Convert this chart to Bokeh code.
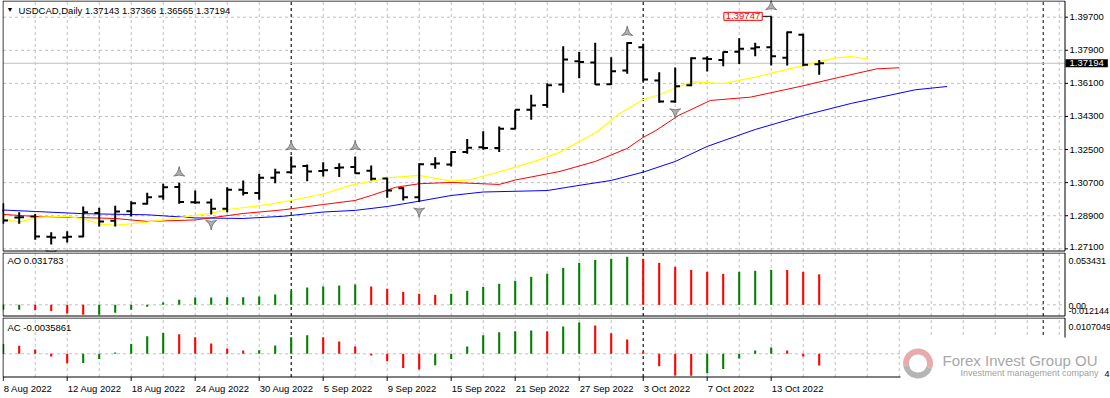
from bokeh.plotting import figure
from bokeh.layouts import column
from bokeh.models import Range1d, Label, Grid
from bokeh.core.properties import value
from bokeh.embed import file_html
from bokeh.resources import INLINE
import numpy as np

# ---------------- data ----------------
tick_idx = [0, 4, 8, 12, 16, 20, 24, 28, 32, 36, 40, 44, 48]
tick_labels = ["8 Aug 2022", "12 Aug 2022", "18 Aug 2022", "24 Aug 2022", "30 Aug 2022",
               "5 Sep 2022", "9 Sep 2022", "15 Sep 2022", "21 Sep 2022", "27 Sep 2022",
               "3 Oct 2022", "7 Oct 2022", "13 Oct 2022"]
month_sep = [18, 40, 65]

open_ = [1.2918, 1.2880, 1.2886, 1.2776, 1.2771, 1.2777, 1.2905, 1.2862, 1.2914, 1.2955,
         1.2995, 1.3046, 1.2963, 1.2962, 1.2928, 1.3031, 1.3013, 1.3097, 1.3126, 1.3160,
         1.3133, 1.3149, 1.3155, 1.3135, 1.3092, 1.3040, 1.2991, 1.3170, 1.3168, 1.3236,
         1.3263, 1.3259, 1.3363, 1.3466, 1.3492, 1.3604, 1.3730, 1.3724, 1.3605, 1.3680,
         1.3807, 1.3625, 1.3512, 1.3600, 1.3745, 1.3737, 1.3782, 1.3800, 1.3807, 1.3750,
         1.3874, 1.37143]
high = [1.2958, 1.2909, 1.2900, 1.2800, 1.2806, 1.2940, 1.2933, 1.2944, 1.2969, 1.3015,
        1.3064, 1.3069, 1.3027, 1.2982, 1.3045, 1.3082, 1.3118, 1.3145, 1.3212, 1.3169,
        1.3181, 1.3176, 1.3212, 1.3163, 1.3096, 1.3045, 1.3176, 1.3208, 1.3241, 1.3308,
        1.3350, 1.3376, 1.3466, 1.3548, 1.3611, 1.3812, 1.3780, 1.3831, 1.3752, 1.3834,
        1.3825, 1.3671, 1.3696, 1.3752, 1.3758, 1.3783, 1.3856, 1.3831, 1.39747, 1.3892,
        1.3880, 1.37366]
low = [1.2846, 1.2846, 1.2759, 1.2733, 1.2744, 1.2773, 1.2832, 1.2832, 1.2886, 1.2951,
       1.2977, 1.2955, 1.2955, 1.2897, 1.2909, 1.3000, 1.2977, 1.3067, 1.3118, 1.3078,
       1.3104, 1.3100, 1.3118, 1.3082, 1.2988, 1.2973, 1.2964, 1.3145, 1.3158, 1.3227,
       1.3249, 1.3236, 1.3360, 1.3412, 1.3477, 1.3559, 1.3638, 1.3602, 1.3601, 1.3662,
       1.3620, 1.3504, 1.3504, 1.3595, 1.3675, 1.3703, 1.3716, 1.3758, 1.3707, 1.3707,
       1.3703, 1.36565]
close = [1.2864, 1.2882, 1.2777, 1.2772, 1.2776, 1.2909, 1.2859, 1.2913, 1.2958, 1.2991,
         1.3045, 1.2964, 1.2962, 1.2928, 1.3031, 1.3013, 1.3096, 1.3125, 1.3158, 1.3131,
         1.3137, 1.3152, 1.3121, 1.3091, 1.3027, 1.2991, 1.3170, 1.3174, 1.3236, 1.3260,
         1.3259, 1.3363, 1.3466, 1.3490, 1.3600, 1.3740, 1.3726, 1.3604, 1.3676, 1.3830,
         1.3631, 1.3512, 1.3595, 1.3747, 1.3743, 1.3780, 1.3798, 1.3807, 1.3758, 1.3888,
         1.3711, 1.37194]

# Alligator lines (shifted into the future)
jaw_idx = [0, 2, 5, 9, 12, 15, 17.5, 20, 22, 24, 26, 28, 30, 34, 36, 38, 40, 42, 44, 47, 50, 53, 57, 59]
jaw = [1.2921, 1.2913, 1.2901, 1.2895, 1.2878, 1.2875, 1.2887, 1.2910, 1.2919, 1.2940, 1.2969, 1.3000,
       1.3019, 1.3027, 1.3055, 1.3082, 1.3127, 1.3185, 1.3267, 1.3359, 1.3435, 1.3501, 1.3575, 1.3593]
teeth_idx = [0, 2, 7, 9, 12, 15, 17.5, 20, 22, 23, 24.5, 26, 28, 31, 32, 34.8, 37, 39, 40, 40.8,
             42.2, 44.2, 46.7, 49.8, 52.3, 54.6, 56]
teeth = [1.2897, 1.2886, 1.2875, 1.2859, 1.2867, 1.2902, 1.2922, 1.2951, 1.2973, 1.3000, 1.3044,
         1.3064, 1.3071, 1.3060, 1.3084, 1.3131, 1.3185, 1.3256, 1.3316, 1.3354, 1.3435, 1.3517,
         1.3535, 1.3593, 1.3644, 1.3689, 1.3695]
lips_idx = [0, 1, 2.3, 4, 5, 6, 7, 9, 11.3, 12.8, 14.4, 16.5, 18, 20, 21.7, 24, 26, 28, 29.2, 31.3,
            33.4, 34.8, 37.1, 38.5, 40, 41, 43, 45, 47, 50, 52, 53, 54]
lips = [1.2873, 1.2855, 1.2882, 1.2886, 1.2873, 1.2846, 1.2837, 1.2855, 1.2882, 1.2901, 1.2928,
        1.2950, 1.2973, 1.3008, 1.3055, 1.3096, 1.3109, 1.3078, 1.3086, 1.3136, 1.3191, 1.3236,
        1.3345, 1.3445, 1.3522, 1.3548, 1.3619, 1.3609, 1.3644, 1.3707, 1.3749, 1.3756, 1.3744]

fractal_up = [11, 18, 22, 39, 48]
fractal_down = [3, 13, 26, 42]

ao = [-0.0052, -0.0050, -0.0056, -0.0063, -0.0090, -0.0104, -0.0103, -0.0083, -0.0052, -0.0021,
      0.0024, 0.0052, 0.0076, 0.0077, 0.0078, 0.0079, 0.0087, 0.0108, 0.0146, 0.0180,
      0.0191, 0.0201, 0.0212, 0.0191, 0.0168, 0.0135, 0.0115, 0.0104, 0.0115, 0.0146,
      0.0187, 0.0219, 0.0250, 0.0291, 0.0323, 0.0385, 0.0437, 0.0468, 0.0479, 0.0500,
      0.0479, 0.0437, 0.0396, 0.0364, 0.0344, 0.0323, 0.0344, 0.0354, 0.0364, 0.0362,
      0.0343, 0.031783]
ac = [0.0030, 0.0024, 0.0013, -0.0008, -0.0029, -0.0028, -0.0016, 0.0004, 0.0030, 0.0053,
      0.0063, 0.0059, 0.0050, 0.0031, 0.0016, 0.0010, 0.0011, 0.0025, 0.0050, 0.0056,
      0.0050, 0.0037, 0.0022, -0.0005, -0.0023, -0.0043, -0.0048, -0.0035, -0.0016, 0.0022,
      0.0056, 0.0065, 0.0068, 0.0071, 0.0068, 0.0083, 0.0095, 0.0086, 0.0062, 0.0043,
      0.0007, -0.0038, -0.0066, -0.0067, -0.0059, -0.0046, -0.0014, 0.0010, 0.0019, 0.0010,
      -0.0008, -0.0035861]

price_ticks = [1.271, 1.289, 1.307, 1.325, 1.343, 1.361, 1.379, 1.397]
last_price = 1.37194
ao_max, ao_min = 0.053431, -0.012144
ac_max, ac_min = 0.0107049, -0.0072

# ---------------- layout / style ----------------
FONT = "Liberation Sans"
FS = "9.5px"
FS_SUB = "9px"
GRID = "#c0c0c0"
GREEN = "#008000"
RED = "#ff0000"
BAR0_PX, BAR_PX = 2.7, 16.0          # page x of first bar, px per bar


def idx(px):
    return (px - BAR0_PX) / BAR_PX


def lin(v1, y1, v2, y2):
    return lambda y: v1 + (y - y1) * (v2 - v1) / (y2 - y1)


pm = lin(1.397, 16.7, 1.271, 248.3)        # main price panel
av = lin(ao_max, 253.0, ao_min, 316.0)     # AO panel
cv = lin(ac_max, 318.0, ac_min, 377.0)     # AC panel

x = np.arange(len(close))
xr = Range1d(idx(2), idx(1110))
x_left = idx(2.5)
x_edge = idx(1064.5)
grid_ticks = list(range(2, 67, 2))


def make_fig(top_px, bot_px, v):
    p = figure(width=1110, height=int(bot_px - top_px), x_range=xr,
               y_range=Range1d(v(bot_px), v(top_px)),
               output_backend="svg", toolbar_location=None,
               x_axis_location=None, y_axis_location=None,
               min_border_left=2, min_border_right=0,
               min_border_top=0, min_border_bottom=0)
    p.center = [r for r in p.center if not isinstance(r, Grid)]
    p.outline_line_color = None
    p.background_fill_color = "white"
    p.border_fill_color = "white"
    return p


def panel_grid(p, v, btop, bbot, hticks):
    n = len(grid_ticks)
    p.segment(x0=grid_ticks, x1=grid_ticks, y0=[v(bbot)] * n, y1=[v(btop)] * n,
              line_color=GRID, line_width=1, line_dash="3 3")
    if hticks:
        m = len(hticks)
        p.segment(x0=[x_left] * m, x1=[x_edge] * m, y0=hticks, y1=hticks,
                  line_color=GRID, line_width=1, line_dash="3 3")
    k = len(month_sep)
    p.segment(x0=month_sep, x1=month_sep, y0=[v(bbot)] * k, y1=[v(btop)] * k,
              line_color="black", line_width=1, line_dash="3 3")


def border(p, v, btop, bbot):
    p.quad(left=x_left, right=x_edge, top=v(btop), bottom=v(bbot),
           fill_color=None, line_color="black", line_width=1)


def txt(p, xx, yy, text, xo=0, yo=0, align="left", color="black", size=FS,
        baseline="middle", font=FONT, **kw):
    lab = Label(x=xx, y=yy, x_offset=xo, y_offset=yo, text=text, text_font=font,
                text_font_size=size, text_color=color, text_align=align,
                text_baseline=baseline, **kw)
    p.add_layout(lab)
    return lab


# ---------------- main price panel ----------------
p1 = make_fig(0, 252, pm)
panel_grid(p1, pm, 0.5, 250.5, price_ticks)
p1.segment(x0=[x_left], x1=[x_edge], y0=[last_price], y1=[last_price],
           line_color=GRID, line_width=1)

p1.line(jaw_idx, jaw, line_color="#0000ff", line_width=1)
p1.line(teeth_idx, teeth, line_color="#ff0000", line_width=1)
p1.line(lips_idx, lips, line_color="#ffff00", line_width=1.2)

o = np.array(open_); h = np.array(high); l = np.array(low); c = np.array(close)
p1.segment(x0=x, y0=l, x1=x, y1=h, line_color="black", line_width=2)
p1.segment(x0=x - 0.3, y0=o, x1=x, y1=o, line_color="black", line_width=2)
p1.segment(x0=x, y0=c, x1=x + 0.3, y1=c, line_color="black", line_width=2)

fu = np.array(fractal_up); fd = np.array(fractal_down)
p1.scatter(fu, h[fu] + 0.0054, marker="triangle_pin", size=11,
           fill_color="#b0b0b0", line_color="#7a7a7a", line_width=1)
p1.scatter(fd, l[fd] - 0.0050, marker="triangle_pin", size=11, angle=np.pi,
           fill_color="#b0b0b0", line_color="#7a7a7a", line_width=1)

imax = int(np.argmax(h))
p1.segment(x0=[imax - 0.56], y0=[h[imax]], x1=[imax], y1=[h[imax]], line_color="black", line_width=1)
border(p1, pm, 0.5, 250.5)

# price scale (right)
m = len(price_ticks)
p1.segment(x0=[x_edge] * m, x1=[x_edge + 3 / BAR_PX] * m, y0=price_ticks, y1=price_ticks,
           line_color="black", line_width=1)
for t in price_ticks:
    txt(p1, x_edge, t, "%.5f" % t, xo=4.5, yo=1.5 if t == min(price_ticks) else 0)
txt(p1, x_edge, last_price, "%.5f" % last_price, xo=0.5, color="white",
    background_fill_color="black", padding=dict(left=4, right=4, top=1, bottom=1))

txt(p1, imax, h[imax], "%.5f" % h[imax], xo=-9, align="right", color=RED,
    border_line_color=RED, background_fill_color="white",
    padding=dict(left=2, right=2, top=1, bottom=1))

txt(p1, idx(6), pm(9), "▼", size="7px")
txt(p1, idx(18), pm(9.5), "USDCAD,Daily  %.5f %.5f %.5f %.5f" % (open_[-1], high[-1], low[-1], close[-1]))

# ---------------- AO panel ----------------
p2 = make_fig(252, 317, av)
panel_grid(p2, av, 252.5, 315.5, [0])
ao_col = [GREEN if i == 0 or ao[i] > ao[i - 1] else RED for i in range(len(ao))]
p2.vbar(x=x, top=ao, bottom=0, width=0.13, fill_color=ao_col, line_color=None)
border(p2, av, 252.5, 315.5)
txt(p2, idx(7), av(260), "AO %.6f" % ao[-1])
txt(p2, x_edge, av(260), "%.6f" % ao_max, xo=3.5, size=FS_SUB)
txt(p2, x_edge, av(305.5), "0.00", xo=3.5, size=FS_SUB)
txt(p2, x_edge, av(310.5), "%.6f" % ao_min, xo=3.5, size=FS_SUB)

# ---------------- AC panel + date scale ----------------
p3 = make_fig(317, 398, cv)
panel_grid(p3, cv, 317.5, 376.5, [0])
ac_col = [GREEN if i == 0 or ac[i] > ac[i - 1] else RED for i in range(len(ac))]
p3.vbar(x=x, top=ac, bottom=0, width=0.13, fill_color=ac_col, line_color=None)
border(p3, cv, 317.5, 376.5)
txt(p3, idx(7), cv(327), "AC %.7f" % ac[-1])
txt(p3, x_edge, cv(326.7), "%.7f" % ac_max, xo=3.5, size=FS_SUB)

nt = len(tick_idx)
p3.segment(x0=tick_idx, x1=tick_idx, y0=[cv(376.5)] * nt, y1=[cv(380.5)] * nt,
           line_color="black", line_width=1)
p3.text(x=tick_idx, y=[cv(387.5)] * nt, text=tick_labels, x_offset=0.5,
        text_font=value(FONT), text_font_size=FS, text_color="black",
        text_align="left", text_baseline="middle")

# logo overlay (white plate anchored at its top-left corner, swoosh ring, texts)
txt(p3, idx(900), cv(337), "Forex Invest Group OU", baseline="top",
    color="#a8a8a8", size="15px",
    background_fill_color="white",
    padding=dict(left=42, right=30, top=14, bottom=32))
txt(p3, idx(960), cv(372.5), "Investment management company",
    color="#a0a0a0", size=FS_SUB)
txt(p3, idx(1104), cv(373), "4", size=FS_SUB)
cx, cy = idx(917.5), cv(363)
w1 = p3.annular_wedge(x=cx, y=cy, inner_radius=9, outer_radius=15, inner_radius_units="screen",
                      outer_radius_units="screen", start_angle=-0.35, end_angle=3.3,
                      fill_color="#e6abab", line_color=None)
w2 = p3.annular_wedge(x=cx, y=cy, inner_radius=9, outer_radius=15, inner_radius_units="screen",
                      outer_radius_units="screen", start_angle=3.3, end_angle=5.93,
                      fill_color="#b5b5b5", line_color=None)
w1.level = "overlay"
w2.level = "overlay"

layout = column(p1, p2, p3, spacing=0)
open("out.html", "w").write(file_html(layout, INLINE))
